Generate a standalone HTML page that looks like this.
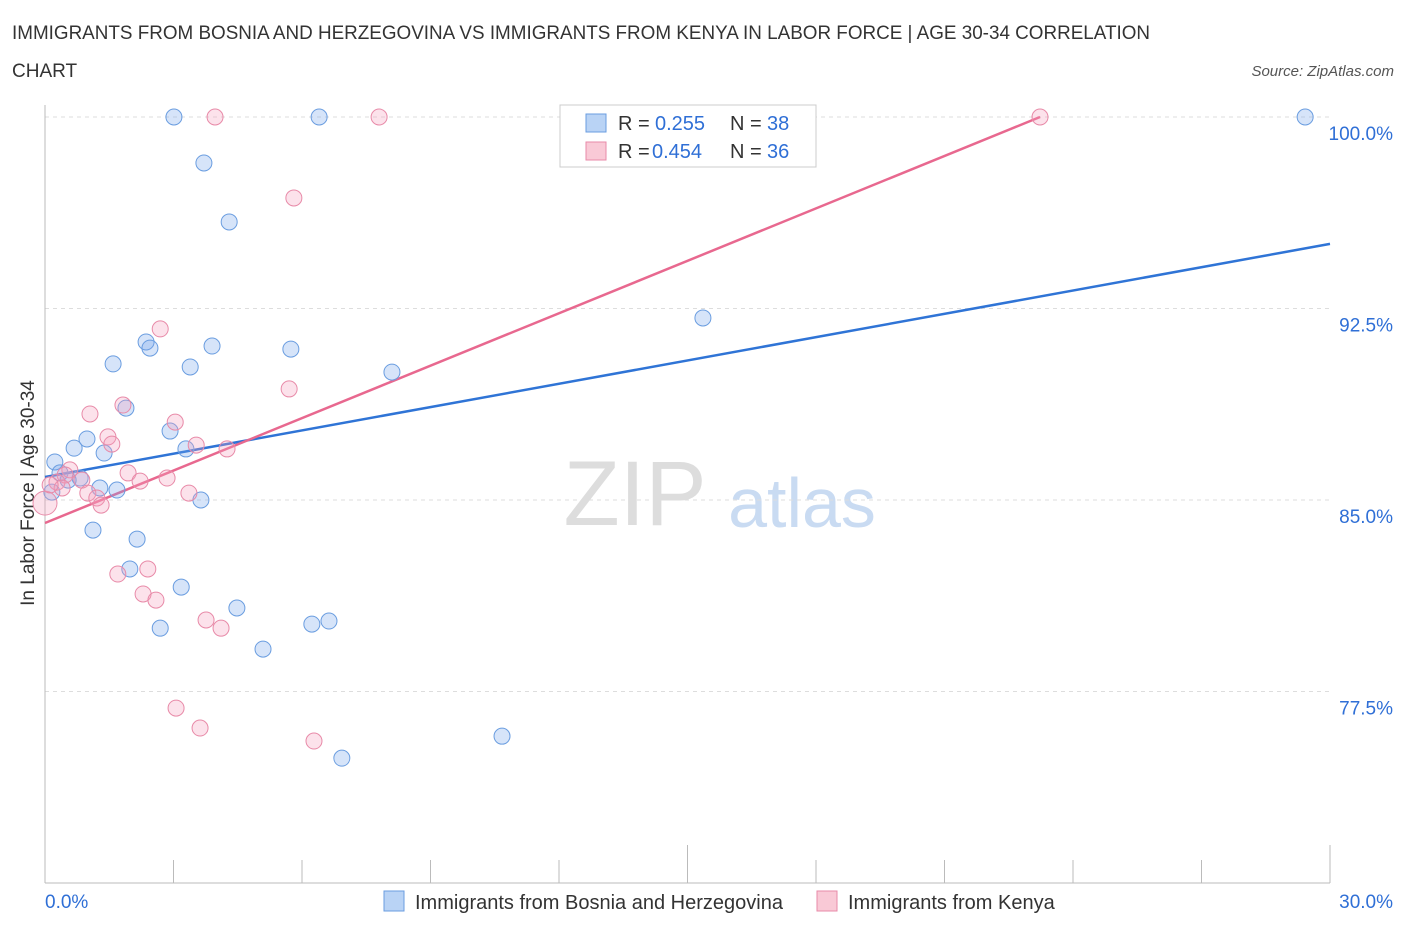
<!DOCTYPE html>
<html><head><meta charset="utf-8">
<style>
body{margin:0;background:#fff;font-family:"Liberation Sans",sans-serif;}
svg text{font-family:"Liberation Sans",sans-serif;}
</style></head>
<body>
<svg id="chart" width="1406" height="930">
<text x="12" y="39" font-size="19" fill="#333" textLength="1138" lengthAdjust="spacingAndGlyphs">IMMIGRANTS FROM BOSNIA AND HERZEGOVINA VS IMMIGRANTS FROM KENYA IN LABOR FORCE | AGE 30-34 CORRELATION</text>
<text x="12" y="77" font-size="19" fill="#333">CHART</text>
<text x="1394" y="76" font-size="15" fill="#555" font-style="italic" text-anchor="end">Source: ZipAtlas.com</text>
<text x="635" y="525" font-size="92" fill="#ddd" font-family="Liberation Serif" text-anchor="middle">ZIP</text>
<text x="802" y="527" font-size="70" fill="#c9dbf2" text-anchor="middle">atlas</text>
<text transform="translate(34,493) rotate(-90)" font-size="19" fill="#333" text-anchor="middle">In Labor Force | Age 30-34</text>
<g id="grid"></g><g id="axes"></g><g id="lines"></g><g id="pts"></g>
<g>
<rect x="560" y="105" width="256" height="62" fill="#fff" stroke="#ccc"/>
<rect x="586" y="114" width="20" height="18" fill="#b9d3f5" stroke="#6a9de0"/>
<text x="618" y="130" font-size="20" fill="#333">R =</text>
<text x="655" y="130" font-size="20" fill="#2f6fd6">0.255</text>
<text x="730" y="130" font-size="20" fill="#333">N =</text>
<text x="767" y="130" font-size="20" fill="#2f6fd6">38</text>
<rect x="586" y="142" width="20" height="18" fill="#f9c9d6" stroke="#e88aa8"/>
<text x="618" y="158" font-size="20" fill="#333">R =</text>
<text x="652" y="158" font-size="20" fill="#2f6fd6">0.454</text>
<text x="730" y="158" font-size="20" fill="#333">N =</text>
<text x="767" y="158" font-size="20" fill="#2f6fd6">36</text>
</g>
<g>
<rect x="384" y="891" width="20" height="20" fill="#b9d3f5" stroke="#6a9de0"/>
<text x="415" y="909" font-size="20" fill="#333">Immigrants from Bosnia and Herzegovina</text>
<rect x="817" y="891" width="20" height="20" fill="#f9c9d6" stroke="#e88aa8"/>
<text x="848" y="909" font-size="20" fill="#333">Immigrants from Kenya</text>
</g>
</svg>
<script>
const yTicks=[77.5,85,92.5,100];
const yTickLabels=["77.5%","85.0%","92.5%","100.0%"];
const xTickLabels=["0.0%","30.0%"];
const blueX=[3.01,6.40,29.42,3.71,4.30,15.36,2.36,2.45,3.90,5.74,1.59,3.39,8.10,1.89,2.92,0.98,0.68,3.29,1.38,0.23,0.35,0.82,0.54,0.16,1.28,1.68,3.64,1.12,2.15,1.98,3.18,4.48,2.69,6.23,6.63,5.09,10.67,6.93];
const blueY=[100,100,100,98.2,95.89,92.13,91.19,90.95,91.03,90.91,90.33,90.21,90.01,88.60,87.70,87.39,87.03,87.00,86.84,86.49,86.06,85.86,85.78,85.31,85.47,85.39,85.0,83.82,83.47,82.30,81.59,80.77,79.98,80.14,80.26,79.16,75.75,74.89];
const pinkX=[3.97,7.80,23.23,5.81,2.69,5.70,1.82,1.05,3.04,1.47,1.56,3.53,4.25,1.94,0.58,0.47,0.86,0.28,2.22,2.85,0.40,1.00,1.21,1.31,3.36,0.0,1.70,2.40,2.29,2.59,3.76,4.11,3.06,3.62,6.28,0.12];
const pinkY=[100,100,100,96.83,91.70,89.35,88.72,88.37,88.05,87.47,87.19,87.15,87.00,86.06,86.18,85.98,85.78,85.70,85.74,85.86,85.47,85.27,85.08,84.80,85.27,84.88,82.10,82.30,81.32,81.08,80.30,79.98,76.85,76.07,75.56,85.59];
const blueTrend=[[0,85.90],[30,95.03]];
const pinkTrend=[[0,84.10],[23.23,100]];
const NS="http://www.w3.org/2000/svg";
const X=v=>45+v/30*1285, Y=v=>117+(100-v)/7.5*191.5;
function mk(t,a,p){const e=document.createElementNS(NS,t);for(const k in a)e.setAttribute(k,a[k]);p.appendChild(e);return e;}
const grid=document.getElementById('grid'),axes=document.getElementById('axes');
yTicks.forEach((t,i)=>{
 const l=mk('line',{x1:45,x2:1330,y1:Y(t),y2:Y(t),stroke:'#ddd','stroke-dasharray':'4,4'},grid);
 
 
 const tx=mk('text',{x:1393,y:Y(t)+23,'font-size':19,fill:'#2f6fd6','text-anchor':'end'},axes);
 tx.textContent=yTickLabels[i];
 
 
});
const ax=mk('line',{x1:45,x2:45,y1:105,y2:883,stroke:'#bbb'},axes);


const bx=mk('line',{x1:45,x2:1330,y1:883,y2:883,stroke:'#bbb'},axes);


for(let i=0;i<=10;i++){
 const tk=mk('line',{x1:X(i*3),x2:X(i*3),y1:(i==5||i==10)?845:860,y2:883,stroke:'#bbb'},axes);
 
 
}
[[0,45,'start'],[30,1393,'end']].forEach((d,i)=>{
 const tx=mk('text',{x:d[1],y:908,'font-size':19,fill:'#2f6fd6','text-anchor':d[2]},axes);
 tx.textContent=xTickLabels[i];
 
 
});
const pts=document.getElementById('pts');
blueX.forEach((v,i)=>{
 const c=mk('circle',{cx:X(v),cy:Y(blueY[i]),r:8,fill:'rgba(120,165,235,0.3)',stroke:'#6a9de0','stroke-width':1},pts);
 
 
});
pinkX.forEach((v,i)=>{
 const c=mk('circle',{cx:X(v),cy:Y(pinkY[i]),r:i==25?12:8,fill:'rgba(245,160,190,0.3)',stroke:'#e88aa8','stroke-width':1},pts);
 
 
});
const lines=document.getElementById('lines');
const bl=mk('line',{x1:X(blueTrend[0][0]),y1:Y(blueTrend[0][1]),x2:X(blueTrend[1][0]),y2:Y(blueTrend[1][1]),stroke:'#2f74d6','stroke-width':2.5},lines);


const pl=mk('line',{x1:X(pinkTrend[0][0]),y1:Y(pinkTrend[0][1]),x2:X(pinkTrend[1][0]),y2:Y(pinkTrend[1][1]),stroke:'#e8688f','stroke-width':2.5},lines);


</script>
</body></html>
